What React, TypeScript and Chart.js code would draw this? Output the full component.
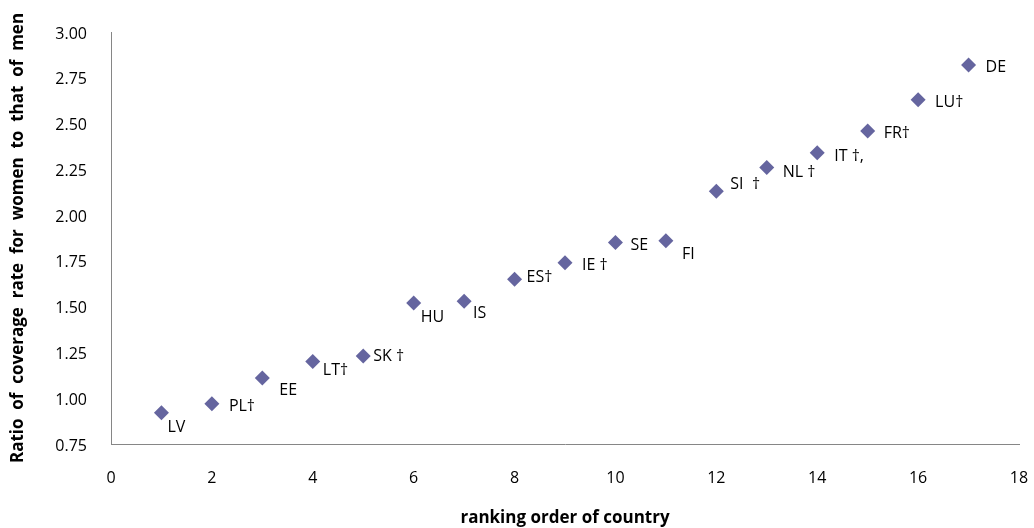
import React, { useEffect, useRef } from "react";
import { Chart, registerables } from "chart.js";

Chart.register(...registerables);

const countries = ["LV", "PL†", "EE", "LT†", "SK †", "HU", "IS", "ES†", "IE †", "SE", "FI", "SI  †", "NL †", "IT †,", "FR†", "LU†", "DE"];
const ranks = [1, 2, 3, 4, 5, 6, 7, 8, 9, 10, 11, 12, 13, 14, 15, 16, 17];
const ratios = [0.92, 0.97, 1.11, 1.2, 1.23, 1.52, 1.53, 1.65, 1.74, 1.85, 1.86, 2.13, 2.26, 2.34, 2.46, 2.63, 2.82];

// label offsets in pixels (style only)
const labelDx = [6, 17, 17, 10, 10, 7, 9, 12, 17, 15, 16, 14, 16, 17, 16, 17, 17];
const labelDy = [15, 3, 12, 9, 0, 14, 12, -2, 3, 3, 14, -7, 5, 4, 3, 3, 2];

const FONT = "'Open Sans', sans-serif";
const MARK = "#65659F";

const labelPlugin = {
  id: "pointLabels",
  afterDatasetsDraw(chart: any) {
    const ctx = chart.ctx;
    const meta = chart.getDatasetMeta(0);
    ctx.save();
    ctx.font = `16px ${FONT}`;
    ctx.fillStyle = "#000";
    ctx.textAlign = "left";
    ctx.textBaseline = "middle";
    meta.data.forEach((pt: any, i: number) => {
      ctx.fillText(countries[i], pt.x + labelDx[i], pt.y + labelDy[i]);
    });
    ctx.restore();
  },
};

export default function App() {
  const ref = useRef<HTMLCanvasElement>(null);
  useEffect(() => {
    document.body.style.margin = "0";
    const chart = new Chart(ref.current as HTMLCanvasElement, {
      type: "scatter",
      data: {
        datasets: [
          {
            data: ranks.map((r, i) => ({ x: r, y: ratios[i] })),
            pointStyle: "rectRot",
            pointRadius: 7.5,
            pointBorderWidth: 0,
            backgroundColor: MARK,
            borderColor: MARK,
          },
        ],
      },
      options: {
        animation: false,
        responsive: false,
        layout: { padding: { top: 32, right: 15, left: 0, bottom: 0 } },
        plugins: { legend: { display: false }, tooltip: { enabled: false } },
        scales: {
          x: {
            type: "linear",
            min: 0,
            max: 18,
            afterFit: (s: any) => {
              s.height = 84;
              s.paddingRight = 0;
              s.paddingLeft = 0;
            },
            ticks: { stepSize: 2, color: "#000", font: { family: FONT, size: 16 }, padding: 17 },
            grid: { display: false },
            border: { display: true, color: "#868686", width: 1 },
            title: {
              display: true,
              text: "ranking order of country",
              color: "#000",
              font: { family: FONT, size: 17, weight: "bold" },
              padding: { top: 0, bottom: 0 },
            },
          },
          y: {
            type: "linear",
            min: 0.75,
            max: 3,
            afterFit: (s: any) => {
              s.width = 111;
              s.paddingTop = 0;
              s.paddingBottom = 0;
            },
            ticks: {
              stepSize: 0.25,
              color: "#000",
              font: { family: FONT, size: 16 },
              padding: 16,
              labelOffset: 2,
              callback: (v: any) => Number(v).toFixed(2),
            },
            grid: { display: false },
            border: { display: true, color: "#868686", width: 1 },
            title: {
              display: true,
              text: "Ratio  of  coverage  rate  for  women  to  that  of  men",
              color: "#000",
              font: { family: FONT, size: 17, weight: "bold" },
              padding: { top: 8, bottom: 0 },
            },
          },
        },
      },
      plugins: [labelPlugin],
    });
    return () => chart.destroy();
  }, []);
  return <canvas ref={ref} width={1034} height={528} style={{ display: "block" }} />;
}
